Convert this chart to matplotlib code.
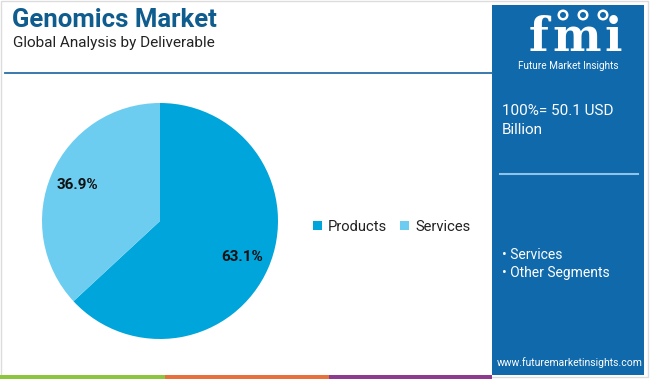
import matplotlib
matplotlib.use("Agg")
import matplotlib.pyplot as plt
from matplotlib.patches import Rectangle, Circle

# ---- data ----
categories = ["Products", "Services"]
shares = [63.1, 36.9]
colors = ["#00a5db", "#6dcdf0"]
title = "Genomics Market"
subtitle = "Global Analysis by Deliverable"
total_lines = ["100%= 50.1 USD", "Billion"]
segments = ["Services", "Other Segments"]
website = "www.futuremarketinsights.com"

W, H = 650, 379
fig = plt.figure(figsize=(W / 100, H / 100), dpi=100)
fig.patch.set_facecolor("white")

# background decoration axis in pixel coordinates
bg = fig.add_axes([0, 0, 1, 1])
bg.set_xlim(0, W)
bg.set_ylim(H, 0)
bg.axis("off")

FONT = "Roboto"
PANEL = "#0f69ab"

# frame
bg.add_patch(Rectangle((1, 1), W - 3, H - 3, fill=False, ec="#dcdcdc", lw=1))
# header line
bg.plot([5, 492], [73, 73], color="#2a6ea8", lw=1.3)
# right panel
bg.add_patch(Rectangle((492, 5), 152, 370, color=PANEL, lw=0))
bg.plot([500, 638], [174, 174], color="#8cc4ea", lw=1.5)
# bottom bars
bg.add_patch(Rectangle((0, 375), 165, 4, color="#8cc63f", lw=0))
bg.add_patch(Rectangle((165, 375), 164, 4, color="#e8703a", lw=0))
bg.add_patch(Rectangle((329, 375), 163, 4, color="#8d3a8f", lw=0))

# titles
bg.text(12, 27, title, fontsize=18.5, fontweight="bold", color="#0f5c8f",
        family=FONT, va="baseline", ha="left")
bg.text(13, 47, subtitle, fontsize=11, color="#222222", family=FONT,
        va="baseline", ha="left")

# logo (letters spread out to imitate the wide logotype)
for ch, x in (("f", 538), ("m", 577), ("i", 613)):
    bg.text(x, 51, ch, fontsize=33, fontweight="bold", color="white",
            family="DejaVu Serif", va="baseline", ha="center")
for y in range(21, 52, 3):
    bg.plot([515, 628], [y, y], color=PANEL, lw=0.7)
for cx in (563, 583, 603):
    bg.add_patch(Circle((cx, 15), 5.5, color="white", lw=0))
    bg.add_patch(Circle((cx, 15), 3, color=PANEL, lw=0))
bg.text(568, 69, "Future Market Insights", fontsize=7.2, color="white",
        family=FONT, ha="center", va="baseline")

# panel texts
for i, line in enumerate(total_lines):
    bg.text(502, 115 + i * 19, line, fontsize=11, color="white", family=FONT,
            va="baseline", ha="left")
for i, s in enumerate(segments):
    bg.text(502, 259 + i * 18, "\u2022 " + s, fontsize=10, color="white",
            family=FONT, va="baseline", ha="left")
bg.text(570, 366, website, fontsize=7.5, color="white", family=FONT,
        ha="center", va="baseline")

# pie
cx, cy, r = 160, 221, 118
ax = fig.add_axes([(cx - r) / W, (H - cy - r) / H, 2 * r / W, 2 * r / H])
wedges, texts, autotexts = ax.pie(
    shares, colors=colors, startangle=90, counterclock=False,
    autopct="%.1f%%", pctdistance=0.76,
    wedgeprops=dict(linewidth=0),
    textprops=dict(fontsize=11, fontweight="bold", color="#111111", family=FONT))
ax.set_xlim(-1, 1)
ax.set_ylim(-1, 1)
ax.set_aspect("equal")
ax.axis("off")

fig.legend(wedges, categories, loc="center left",
           bbox_to_anchor=(300 / W, 1 - 227 / H), ncol=2, frameon=False,
           handlelength=0.6, handleheight=0.6, handletextpad=0.4,
           columnspacing=0.9,
           prop=dict(family=FONT, size=10.6), labelcolor="#222222")

fig.savefig("out.png", dpi=100)
